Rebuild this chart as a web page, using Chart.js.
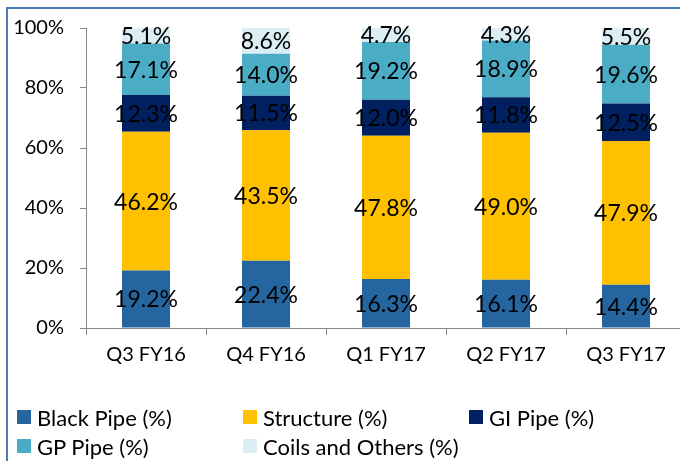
<!DOCTYPE html>
<html>
<head>
<meta charset="utf-8">
<script src="https://cdn.jsdelivr.net/npm/chart.js@4/dist/chart.umd.min.js"></script>
<style>
  html, body { margin: 0; padding: 0; background: #fff; overflow: hidden; width: 680px; height: 461px; }
  #frame { position: absolute; left: 6px; top: 7px; width: 720px; height: 500px;
           border-left: 2px solid #4A7EBB; border-top: 2px solid #4A7EBB; }
  #wrap { position: absolute; left: 0; top: 0; width: 700px; height: 461px; }
  #legend { position: absolute; left: 0; top: 0; font-family: Lato, "Open Sans", sans-serif;
            font-size: 22px; color: #000; }
  .item { position: absolute; white-space: nowrap; display: flex; align-items: center; }
  .box { width: 14px; height: 14px; margin-right: 6px; }
</style>
</head>
<body>
<div id="frame"></div>
<div id="wrap"><canvas id="c" width="700" height="461"></canvas></div>
<div id="legend"></div>
<script>
const categories = ["Q3 FY16", "Q4 FY16", "Q1 FY17", "Q2 FY17", "Q3 FY17"];
const blackPipe  = [19.2, 22.4, 16.3, 16.1, 14.4];
const structure  = [46.2, 43.5, 47.8, 49.0, 47.9];
const giPipe     = [12.3, 11.5, 12.0, 11.8, 12.5];
const gpPipe     = [17.1, 14.0, 19.2, 18.9, 19.6];
const coils      = [5.1, 8.6, 4.7, 4.3, 5.5];
const yTicks     = [0, 20, 40, 60, 80, 100];

const FONT = 'Lato, "Open Sans", sans-serif';

const series = [
  { label: "Black Pipe (%)", data: blackPipe, color: "#2566A1" },
  { label: "Structure (%)", data: structure, color: "#FFC000" },
  { label: "GI Pipe (%)", data: giPipe, color: "#002060" },
  { label: "GP Pipe (%)", data: gpPipe, color: "#4BACC6" },
  { label: "Coils and Others (%)", data: coils, color: "#DAEEF3" }
];

// Writes each segment's value in the middle of its bar piece
const segmentLabels = {
  id: "segmentLabels",
  afterDatasetsDraw(chart) {
    const ctx = chart.ctx;
    ctx.save();
    ctx.font = "23px " + FONT;
    ctx.fillStyle = "#000";
    ctx.textAlign = "center";
    ctx.textBaseline = "middle";
    chart.data.datasets.forEach((ds, i) => {
      const meta = chart.getDatasetMeta(i);
      meta.data.forEach((el, j) => {
        const v = ds.data[j];
        ctx.fillText(v.toFixed(1) + "%", el.x, (el.y + el.base) / 2 + 1);
      });
    });
    ctx.restore();
  }
};

const chart = new Chart(document.getElementById("c"), {
  type: "bar",
  data: {
    labels: categories,
    datasets: series.map(s => ({
      label: s.label,
      data: s.data,
      backgroundColor: s.color,
      borderWidth: 0,
      barPercentage: 0.4,
      categoryPercentage: 1.0
    }))
  },
  options: {
    responsive: false,
    animation: false,
    devicePixelRatio: 1,
    layout: { padding: { left: 0, right: 14, top: 24, bottom: 0 } },
    plugins: { legend: { display: false }, tooltip: { enabled: false } },
    scales: {
      x: {
        stacked: true,
        grid: { drawOnChartArea: false, tickLength: 7, color: "#868686", offset: true },
        border: { display: true, color: "#868686", width: 1 },
        ticks: { color: "#000", font: { family: FONT, size: 20 }, padding: 8, maxRotation: 0 },
        afterFit: s => { s.height = 133; }
      },
      y: {
        stacked: true,
        min: 0, max: 100,
        afterBuildTicks: s => { s.ticks = yTicks.map(v => ({ value: v })); },
        grid: { drawOnChartArea: false, tickLength: 6, color: "#868686" },
        border: { display: true, color: "#868686", width: 1 },
        ticks: { color: "#000", font: { family: FONT, size: 20 }, padding: 16,
                 callback: v => v + "%" },
        afterFit: s => { s.width = 86; }
      }
    }
  },
  plugins: [segmentLabels]
});

// Legend in two rows of fixed-width columns under the plot
const legend = document.getElementById("legend");
const colX = [17, 243, 469];
const rowY = [417, 446];
chart.data.datasets.forEach((ds, i) => {
  const item = document.createElement("div");
  item.className = "item";
  item.style.left = colX[i % 3] + "px";
  item.style.top = (rowY[Math.floor(i / 3)] - 13) + "px";
  item.style.height = "26px";
  const box = document.createElement("span");
  box.className = "box";
  box.style.background = ds.backgroundColor;
  const txt = document.createElement("span");
  txt.textContent = ds.label;
  item.appendChild(box);
  item.appendChild(txt);
  legend.appendChild(item);
});
</script>
</body>
</html>
